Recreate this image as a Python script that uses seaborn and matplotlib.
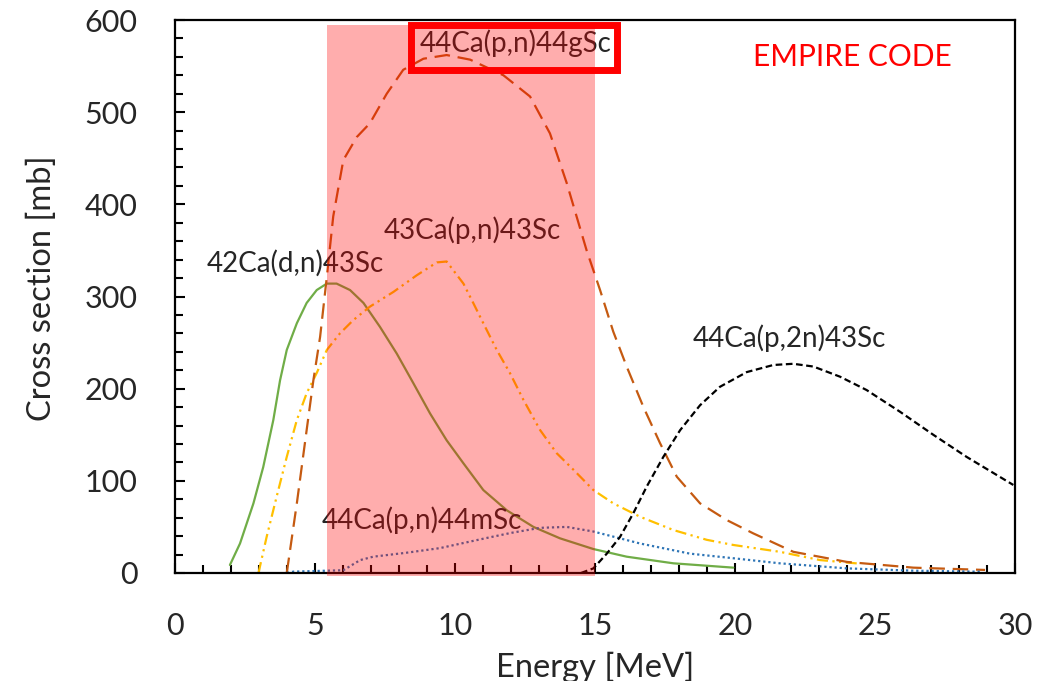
import numpy as np
import pandas as pd
import matplotlib
matplotlib.use("Agg")
import matplotlib.pyplot as plt
from matplotlib.patches import Rectangle
from matplotlib.ticker import MultipleLocator
import seaborn as sns

# -----------------------------
# Data (energy MeV, cross section mb)
# -----------------------------
ca42_dn_x = [1.96, 2.32, 2.80, 3.15, 3.51, 3.75, 3.99, 4.35, 4.70, 5.06, 5.42, 5.77,
             6.25, 6.73, 7.32, 7.92, 8.51, 9.11, 9.70, 10.30, 11.01, 11.85, 12.80,
             13.75, 14.94, 16.13, 17.80, 19.94]
ca42_dn_y = [8.7, 32, 75.6, 115, 166, 209, 242, 271, 293, 307, 314, 314,
             307, 293, 267, 238, 206, 173, 144, 119, 90, 68, 50,
             37.6, 26, 17.7, 10.5, 5.8]

ca43_pn_x = [2.98, 3.27, 3.63, 3.99, 4.35, 4.70, 5.06, 5.42, 5.89, 6.37, 6.96,
             7.80, 8.63, 9.35, 9.70, 10.30, 10.65, 11.01, 11.49, 11.96, 12.44,
             13.04, 13.63, 14.23, 14.94, 15.65, 16.61, 17.80, 18.99, 19.94,
             21.6, 23.04, 24.5]
ca43_pn_y = [0, 39, 83, 126, 166, 195, 217, 242, 260, 274.5, 289,
             305, 323, 337, 338, 314, 293, 271, 242, 217, 188,
             155, 130, 112, 90, 75.6, 61, 46.6, 36, 30.4,
             23, 14, 10]

ca44_pn_g_x = [3.99, 4.35, 4.70, 4.94, 5.18, 5.42, 5.65, 6.01, 6.49, 6.96, 7.56,
               8.15, 8.87, 9.70, 10.54, 11.73, 12.68, 13.39, 13.99, 14.70, 15.18,
               15.65, 16.13, 16.73, 17.32, 17.92, 18.75, 19.70, 20.65, 22.08,
               24.0, 26.37, 28.93]
ca44_pn_g_y = [0, 75.6, 155, 209, 256, 321, 387, 448, 473, 488, 520,
               546, 558, 562, 557, 540, 517, 477, 423, 350, 307,
               262, 224, 180, 141, 104.5, 75.6, 57.5, 43, 23,
               12, 5.8, 3.3]

ca44_pn_m_x = [4.0, 4.23, 6.01, 6.61, 7.08, 8.27, 9.46, 11.13, 12.0, 13.04, 13.99,
               14.94, 16.61, 18.39, 19.94, 21.6, 24.0, 26.37, 28.75]
ca44_pn_m_y = [0, 1.5, 3, 14, 17.7, 22, 27, 38, 43.5, 49, 50,
               45, 32, 21, 16, 10.5, 5, 2.5, 1.4]

ca44_p2n_x = [14.5, 14.94, 15.42, 15.89, 16.37, 16.85, 17.44, 18.04, 18.75, 19.46,
              20.42, 21.37, 22.08, 22.8, 23.75, 24.70, 25.89, 27.08, 28.27, 29.94]
ca44_p2n_y = [0, 5, 21, 39, 65, 94, 126, 155, 182, 202,
              218, 225.7, 227, 224, 213, 198.5, 175, 150, 126, 95.5]

# highlighted energy window
SHADE_X = [5.42, 15.0]
SHADE_Y = [-3, 595]

# -----------------------------
# Styling
# -----------------------------
sns.set_style("ticks")
plt.rcParams["font.family"] = ["Lato", "DejaVu Sans"]

TICK_FONT = 22
LABEL_FONT = 23.5
ANNOT_FONT = 20
LW = 1.6

series = [
    (ca42_dn_x, ca42_dn_y, "#70AD47", "-"),
    (ca43_pn_x, ca43_pn_y, "#FFC000", (0, (5, 2, 1, 2, 1, 2))),
    (ca44_pn_g_x, ca44_pn_g_y, "#C55A11", (0, (7, 3.5))),
    (ca44_pn_m_x, ca44_pn_m_y, "#2E75B6", (0, (1, 1.3))),
    (ca44_p2n_x, ca44_p2n_y, "black", (0, (3, 1.6))),
]

fig = plt.figure(figsize=(10.37, 6.81), dpi=100)
ax = fig.add_axes([0.1688, 0.1586, 0.81, 0.812])

for xs, ys, col, ls in series:
    sns.lineplot(x=xs, y=ys, ax=ax, color=col, linestyle=ls, linewidth=LW,
                 errorbar=None, sort=False, zorder=2)

ax.set_xlim(0, 30)
ax.set_ylim(0, 600)
ax.xaxis.set_major_locator(MultipleLocator(5))
ax.xaxis.set_minor_locator(MultipleLocator(1))
ax.yaxis.set_major_locator(MultipleLocator(100))
ax.yaxis.set_minor_locator(MultipleLocator(20))
ax.tick_params(which="major", direction="in", length=7, width=1.5, color="black",
               labelsize=TICK_FONT)
ax.tick_params(which="minor", direction="in", length=5.5, width=1.5, color="black")
ax.tick_params(axis="x", which="major", pad=28)
ax.tick_params(axis="y", which="major", pad=27)
for sp in ax.spines.values():
    sp.set_linewidth(1.6)
    sp.set_color("black")

ax.set_xlabel("Energy [MeV]", fontsize=LABEL_FONT)
ax.set_ylabel("Cross section [mb]", fontsize=LABEL_FONT)
ax.xaxis.set_label_coords(0.5, -0.142)
ax.yaxis.set_label_coords(-0.14, 0.515)

# reaction labels
ax.text(4.3, 336, "42Ca(d,n)43Sc", fontsize=ANNOT_FONT, ha="center", va="center", zorder=2)
ax.text(10.6, 372, "43Ca(p,n)43Sc", fontsize=ANNOT_FONT, ha="center", va="center", zorder=2)
ax.text(12.18, 575, "44Ca(p,n)44gSc", fontsize=ANNOT_FONT, ha="center", va="center", zorder=2)
ax.text(8.81, 57.5, "44Ca(p,n)44mSc", fontsize=ANNOT_FONT, ha="center", va="center", zorder=2)
ax.text(21.93, 255, "44Ca(p,2n)43Sc", fontsize=ANNOT_FONT, ha="center", va="center", zorder=2)
ax.text(24.2, 560, "EMPIRE CODE", fontsize=21.5, color="red",
        ha="center", va="center", zorder=2)

# translucent red window drawn over the curves
ax.add_patch(Rectangle((SHADE_X[0], SHADE_Y[0]), SHADE_X[1] - SHADE_X[0],
                       SHADE_Y[1] - SHADE_Y[0], facecolor="red", alpha=0.32,
                       edgecolor="none", zorder=3, clip_on=False))

# red frame around the 44gSc label
ax.add_patch(Rectangle((8.43, 546), 15.77 - 8.43, 595 - 546, facecolor="none",
                       edgecolor="red", linewidth=5, zorder=4, clip_on=False))

fig.savefig("out.png", dpi=100)
